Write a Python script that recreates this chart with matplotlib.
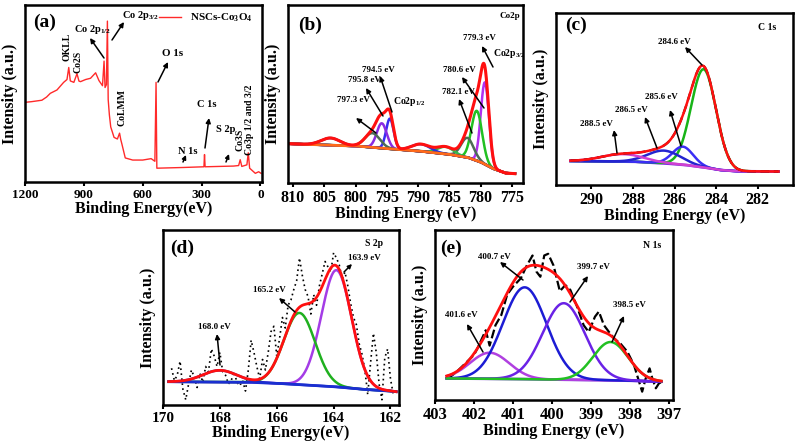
import numpy as np
import matplotlib
matplotlib.use("Agg")
import matplotlib.pyplot as plt
from matplotlib.patches import FancyArrowPatch

W, H = 801, 448

# ---------------- data ----------------
# (a) survey spectrum
survey_be = [1200, 1166, 1114, 1090, 1071, 1037, 1003, 986, 977, 969, 951, 935, 925, 917,
             891, 866, 840, 823, 805, 797, 792, 785, 780, 776, 770, 763, 746, 729, 718,
             712, 706, 689, 651, 600, 557, 538, 532, 528, 394, 288, 285, 282, 137, 111,
             103, 95, 69, 62, 55, 26, 9, -3]
survey_int = [45.0, 45.4, 46.2, 48.0, 50.1, 52.0, 56.3, 57.9, 64.7, 57.1, 56.3, 61.2, 57.0, 56.7,
              57.9, 58.6, 61.7, 57.3, 54.4, 68.3, 53.4, 55.0, 90.9, 46.6, 38.0, 31.1, 25.2, 24.3, 27.6,
              24.0, 21.4, 13.6, 12.4, 12.4, 13.2, 11.7, 56.3, 7.8, 8.2, 8.6, 15.5, 8.6, 9.0, 9.3,
              12.6, 8.8, 9.7, 16.5, 7.8, 4.9, 5.8, 4.9]

# (b) Co 2p fitted components
co_centers = [779.3, 780.6, 782.1, 785.6, 789.5, 794.5, 795.8, 797.3, 804.0]
co_heights = [46, 28, 11, 4, 4, 17, 14, 8, 4]
co_sigmas = [0.65, 0.85, 1.0, 1.3, 1.5, 0.6, 0.8, 1.2, 1.5]
co_bg_be = [811, 800, 795, 790, 785, 782, 780, 778, 776, 773]
co_bg = [22.1, 20.8, 19.3, 18.0, 16.1, 14.3, 11.8, 8.1, 5.6, 4.9]

# (c) C 1s fitted components
c_centers = [284.6, 285.6, 286.5, 288.5]
c_heights = [57, 10.5, 7.4, 4.3]
c_sigmas = [0.6, 0.5, 0.8, 1.0]
c_bg_be = [291.2, 288, 286.5, 285.5, 284.6, 283.8, 283, 280.5]
c_bg = [14.0, 13.6, 12.6, 11.7, 10.3, 8.7, 8.0, 7.8]

# (d) S 2p fitted components + raw data
s_centers = [163.9, 165.2, 168.0]
s_heights = [66.7, 41, 6.7]
s_sigmas = [0.53, 0.55, 0.6]
s_bg_be = [169.8, 167, 166, 165, 164, 163, 162, 161.8]
s_bg = [13.3, 13.0, 12.4, 11.4, 10.5, 9.0, 8.0, 7.6]
s_raw_be = [169.7, 169.6, 169.5, 169.4, 169.3, 169.2, 169.1, 169.0, 168.9, 168.8, 168.7, 168.6,
            168.5, 168.4, 168.3, 168.2, 168.1, 168.0, 167.9, 167.8, 167.7, 167.6, 167.5, 167.4,
            167.3, 167.2, 167.1, 167.0, 166.9, 166.8, 166.7, 166.6, 166.5, 166.4, 166.3, 166.2,
            166.1, 166.0, 165.9, 165.8, 165.7, 165.6, 165.5, 165.4, 165.3, 165.2, 165.1, 165.0,
            164.9, 164.8, 164.7, 164.6, 164.5, 164.4, 164.3, 164.2, 164.1, 164.0, 163.9, 163.8,
            163.7, 163.6, 163.5, 163.4, 163.3, 163.2, 163.1, 163.0, 162.9, 162.8, 162.7, 162.6,
            162.5, 162.4, 162.3, 162.2, 162.1, 162.0, 161.9]
s_raw = [21, 14, 17, 25, 9, 3, 12, 20, 16, 10, 18, 13,
         22, 19, 32, 28, 22, 30, 19, 17, 12, 14, 19, 13,
         11, 14, 8, 20, 37, 30, 22, 15, 26, 20, 30, 42,
         45, 28, 38, 50, 44, 57, 60, 66, 71, 84, 74, 66,
         62, 52, 63, 57, 68, 75, 82, 79, 76, 87, 84, 80,
         72, 76, 68, 58, 50, 46, 35, 29, 20, 6, 24, 41,
         30, 12, 3, 27, 32, 15, 6]

# (e) N 1s fitted components + raw data
n_centers = [401.6, 400.7, 399.7, 398.5]
n_heights = [15.3, 54, 45, 22.5]
n_sigmas = [0.5, 0.56, 0.54, 0.45]
n_bg_be = [402.7, 401, 400, 399, 398, 397.2]
n_bg = [12.7, 12.4, 12.0, 11.8, 11.4, 10.8]
n_raw_be = [402.66, 402.44, 402.0, 401.9, 401.7, 401.6, 401.45, 401.3, 401.15, 401.0, 400.8,
            400.65, 400.5, 400.4, 400.3, 400.2, 400.1, 399.96, 399.8, 399.66, 399.53, 399.36,
            399.19, 399.06, 398.9, 398.8, 398.67, 398.54, 398.4, 398.24, 398.07, 397.9, 397.77,
            397.69, 397.6, 397.5, 397.43, 397.34, 397.26, 397.17]
n_raw = [12.7, 16.7, 26.5, 31, 41, 32, 44, 50, 62, 66.7, 71.6,
         79, 85, 75.5, 72.5, 85, 86, 79, 64, 67.6, 64.7, 55,
         44, 40, 49, 52, 44, 40, 36, 33, 28.4, 20.6, 10.8,
         4.9, 12.7, 18.6, 12.7, 6.9, 9.8, 10.8]

# ---------------- style ----------------
plt.rcParams['font.family'] = ['Liberation Serif', 'DejaVu Serif']
plt.rcParams['font.weight'] = 'bold'
plt.rcParams['axes.labelweight'] = 'bold'
plt.rcParams['mathtext.fontset'] = 'custom'
plt.rcParams['mathtext.rm'] = 'Liberation Serif:bold'
plt.rcParams['mathtext.bf'] = 'Liberation Serif:bold'
plt.rcParams['mathtext.it'] = 'Liberation Serif:bold'
plt.rcParams['mathtext.default'] = 'bf'

RED = '#ff1010'

fig = plt.figure(figsize=(W / 100, H / 100), dpi=100)


def box(x0, y0, x1, y1):
    return [x0 / W, 1 - y1 / H, (x1 - x0) / W, (y1 - y0) / H]


def fpx(x, y):
    return (x / W, 1 - y / H)


def ftext(x, y, s, size=7, rot=0, ha='left', va='center'):
    fig.text(*fpx(x, y), s, fontsize=size, fontweight='bold', rotation=rot,
             ha=ha, va=va)


def arrow(tail, head, lw=1.1, ms=7):
    fig.add_artist(FancyArrowPatch(posA=fpx(*tail), posB=fpx(*head),
                                   transform=fig.transFigure, arrowstyle='-|>',
                                   mutation_scale=ms, lw=lw, color='k',
                                   shrinkA=0, shrinkB=0))


def style_ax(ax, xlim, ticks, xlabel, ticksize=10.5, ylim=(0, 100)):
    ax.set_xlim(*xlim)
    ax.set_ylim(*ylim)
    ax.set_xticks(ticks)
    ax.set_yticks([])
    ax.tick_params(axis='x', direction='out', length=3, width=1.5, labelsize=ticksize, pad=2)
    for lab in ax.get_xticklabels():
        lab.set_fontweight('bold')
    for sp in ax.spines.values():
        sp.set_linewidth(1.8)
    ax.set_xlabel(xlabel, fontsize=11.5, fontweight='bold', labelpad=0)
    ax.set_ylabel('Intensity (a.u.)', fontsize=11.5, fontweight='bold', labelpad=5)


def gauss(x, c, h, s):
    return h * np.exp(-(x - c) ** 2 / (2 * s ** 2))


def fit_panel(ax, grid, centers, heights, sigmas, bg_be, bg, colors, bg_color,
              bg_first=False):
    base = np.interp(grid, bg_be[::-1], bg[::-1])
    total = base.copy()
    if bg_first:
        ax.plot(grid, base, color=bg_color, lw=2)
    for c, h, s, col in zip(centers, heights, sigmas, colors):
        comp = gauss(grid, c, h, s)
        total += comp
        ax.plot(grid, base + comp, color=col, lw=1.8)
    if not bg_first:
        ax.plot(grid, base, color=bg_color, lw=2)
    return total


# ---------------- (a) survey ----------------
axa = fig.add_axes(box(25, 5, 262, 182))
axa.plot(survey_be, survey_int, color='#ff2a2a', lw=1.0, label='NSCs-Co$_3$O$_4$')
style_ax(axa, (1200, -8), [1200, 900, 600, 300, 0], 'Binding Energy(eV)', ticksize=9.5)
axa.legend(loc='upper right', frameon=False, fontsize=8, handlelength=2.0,
           borderaxespad=0.2, bbox_to_anchor=(0.99, 1.0))
ftext(33, 22, '(a)', size=14)
ftext(122, 16, 'Co 2p$_{3/2}$', size=7.5)
arrow((112, 40), (124, 22))
ftext(74, 30, 'Co 2p$_{1/2}$', size=7.5)
arrow((104, 58), (90, 38))
ftext(67, 47, 'OKLL', size=7, rot=90, ha='center')
ftext(78, 62, 'Co2S', size=7, rot=90, ha='center')
ftext(162, 53, 'O 1s', size=8)
arrow((158, 82), (168, 62))
ftext(122, 107, 'CoLMM', size=7, rot=90, ha='center')
ftext(178, 151, 'N 1s', size=7.5)
arrow((183, 162), (186, 155), ms=6)
ftext(197, 104, 'C 1s', size=7.5)
arrow((205, 148), (209, 118))
ftext(216, 130, 'S 2p', size=7.5)
arrow((226, 162), (229, 154), ms=6)
ftext(240, 140, 'Co3S', size=7, rot=90, ha='center')
ftext(250, 120, 'Co3p 1/2 and 3/2', size=7, rot=90, ha='center')

# ---------------- (b) Co 2p ----------------
axb = fig.add_axes(box(288, 5, 523, 183))
gb = np.linspace(810.5, 774.5, 900)
co_colors = ['#b030f0', '#22c022', '#4d6b55', '#33b84a', '#2233dd', '#3a2cf0',
             '#8a2be2', '#4d6b55', '#1d1d6e']
totb = fit_panel(axb, gb, co_centers, co_heights, co_sigmas, co_bg_be, co_bg,
                 co_colors, '#ff6a1a')
axb.plot(gb, totb, color=RED, lw=2.2)
style_ax(axb, (810.8, 773.2), [810, 805, 800, 795, 790, 785, 780, 775],
         'Binding Energy (eV)', ticksize=11.5)
ftext(298, 25, '(b)', size=14)
ftext(500, 16, 'Co2p', size=6.5)
ftext(463, 38, '779.3 eV', size=6.5)
arrow((493, 67), (482, 46))
ftext(493, 54, 'Co2p$_{3/2}$', size=7)
ftext(443, 70, '780.6 eV', size=6.5)
arrow((484, 108), (462, 77))
ftext(442, 92, '782.1 eV', size=6.5)
arrow((472, 133), (459, 99))
ftext(362, 70, '794.5 eV', size=6.5)
arrow((392, 112), (380, 76))
ftext(348, 80, '795.8 eV', size=6.5)
arrow((383, 116), (366, 88))
ftext(393, 101, 'Co2p$_{1/2}$', size=7)
ftext(337, 100, '797.3 eV', size=6.5)
arrow((376, 133), (356, 118))

# ---------------- (c) C 1s ----------------
axc = fig.add_axes(box(556, 13, 793, 185))
gc = np.linspace(291.0, 281.0, 800)
totc = fit_panel(axc, gc, c_centers, c_heights, c_sigmas, c_bg_be, c_bg,
                 ['#18b418', '#3b2ef5', '#2424d0', '#d040d0'], '#7d2ee0', bg_first=True)
axc.plot(gc, totc, color='k', lw=1.6, ls=(0, (4, 2)))
axc.plot(gc, totc, color=RED, lw=1.8)
style_ax(axc, (291.7, 280.3), [290, 288, 286, 284, 282], 'Binding Energy (eV)', ticksize=11.5)
ftext(565, 25, '(c)', size=14)
ftext(758, 27, 'C 1s', size=7)
ftext(658, 42, '284.6 eV', size=6.5)
arrow((702, 65), (685, 47))
ftext(645, 97, '285.6 eV', size=6.5)
arrow((681, 146), (670, 110))
ftext(615, 110, '286.5 eV', size=6.5)
arrow((657, 148), (645, 117))
ftext(580, 124, '288.5 eV', size=6.5)
arrow((617, 153), (614, 130))

# ---------------- (d) S 2p ----------------
axd = fig.add_axes(box(163, 230, 399, 405))
gd = np.linspace(169.8, 161.8, 800)
axd.plot(s_raw_be, s_raw, color='k', lw=1.2, ls=(0, (1, 2)))
totd = fit_panel(axd, gd, s_centers, s_heights, s_sigmas, s_bg_be, s_bg,
                 ['#a43ce6', '#1fb01f', '#2222c8'], '#1a2fd0')
axd.plot(gd, totd, color=RED, lw=2.0)
style_ax(axd, (170, 161.7), [170, 168, 166, 164, 162], 'Binding Energy(eV)', ticksize=11)
ftext(170, 248, '(d)', size=14)
ftext(365, 243, 'S 2p', size=7)
ftext(348, 258, '163.9 eV', size=6.5)
arrow((344, 272), (352, 264), ms=6)
ftext(253, 290, '165.2 eV', size=6.5)
arrow((295, 312), (279, 298))
ftext(198, 327, '168.0 eV', size=6.5)
arrow((220, 365), (217, 334))

# ---------------- (e) N 1s ----------------
axe = fig.add_axes(box(435, 230, 673, 400))
ge = np.linspace(402.7, 397.2, 700)
axe.plot(n_raw_be, n_raw, color='k', lw=1.6, ls=(0, (4, 1.5)))
tote = fit_panel(axe, ge, n_centers, n_heights, n_sigmas, n_bg_be, n_bg,
                 ['#b040e0', '#1c1cd4', '#6a22e6', '#22c022'], '#7a3ad6', bg_first=True)
axe.plot(ge, tote, color=RED, lw=2.0)
style_ax(axe, (403, 396.9), [403, 402, 401, 400, 399, 398, 397], 'Binding Energy (eV)',
         ticksize=12)
ftext(440, 248, '(e)', size=14)
ftext(643, 245, 'N 1s', size=7)
ftext(478, 257, '400.7 eV', size=6.5)
arrow((523, 280), (500, 262))
ftext(577, 267, '399.7 eV', size=6.5)
arrow((570, 302), (588, 276))
ftext(613, 305, '398.5 eV', size=6.5)
arrow((612, 342), (624, 316))
ftext(445, 315, '401.6 eV', size=6.5)
arrow((483, 352), (467, 324))

fig.savefig('out.png', dpi=100)
